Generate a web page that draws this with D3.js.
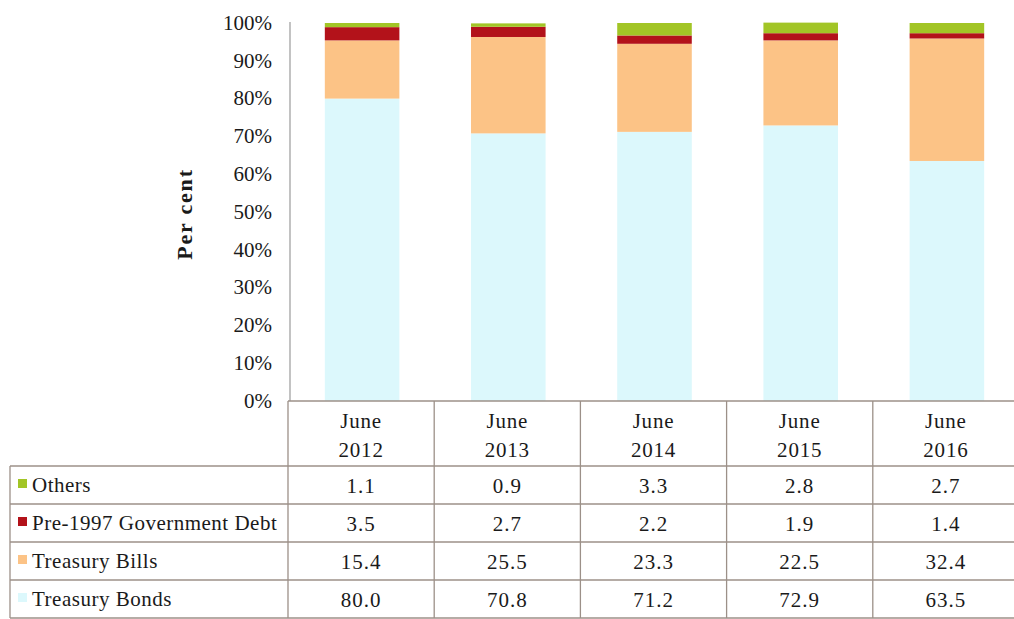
<!DOCTYPE html>
<html>
<head>
<meta charset="utf-8">
<script src="https://cdn.jsdelivr.net/npm/d3@7"></script>
<style>
  body { margin: 0; background: #fff; }
  text { font-family: "Liberation Serif", "Times New Roman", serif; fill: #1a1a1a; }
</style>
</head>
<body>
<svg id="chart" width="1014" height="619"></svg>
<script>
// data (per cent of total)
const periods = ["June 2012", "June 2013", "June 2014", "June 2015", "June 2016"]
const seriesNames = ["Treasury Bonds", "Treasury Bills", "Pre-1997 Government Debt", "Others"]
const treasuryBonds = [80.0, 70.8, 71.2, 72.9, 63.5]
const treasuryBills = [15.4, 25.5, 23.3, 22.5, 32.4]
const pre1997Debt = [3.5, 2.7, 2.2, 1.9, 1.4]
const others = [1.1, 0.9, 3.3, 2.8, 2.7]
const yTicks = [0, 10, 20, 30, 40, 50, 60, 70, 80, 90, 100]

const colors = {
  "Treasury Bonds": "#dcf8fc",
  "Treasury Bills": "#fcc386",
  "Pre-1997 Government Debt": "#b3121a",
  "Others": "#a2c526"
}
const valuesBySeries = {
  "Treasury Bonds": treasuryBonds,
  "Treasury Bills": treasuryBills,
  "Pre-1997 Government Debt": pre1997Debt,
  "Others": others
}

const rows = periods.map((p, i) => {
  const r = { period: p }
  seriesNames.forEach(s => { r[s] = valuesBySeries[s][i] })
  return r
})

const svg = d3.select("#chart")
const lineColor = "#9c9088"

const tableLeft = 10, plotLeft = 288, tableRight = 1019
const plotTop = 23, base = 401
const headerBottom = 466, rowH = 38

const x = d3.scaleBand()
  .domain(periods)
  .range([plotLeft, tableRight])

const y = d3.scaleLinear()
  .domain([0, 100])
  .range([base, plotTop])

// stacked bars
const stack = d3.stack().keys(seriesNames)
const stacked = stack(rows)
const barW = x.bandwidth() * 0.51

svg.append("g").selectAll("g")
  .data(stacked)
  .join("g")
    .attr("fill", d => colors[d.key])
  .selectAll("rect")
  .data(d => d)
  .join("rect")
    .attr("x", d => x(d.data.period) + (x.bandwidth() - barW) / 2 + 1)
    .attr("width", barW)
    .attr("y", d => y(d[1]))
    .attr("height", d => y(d[0]) - y(d[1]))

// y axis
const yAxis = svg.append("g")
  .attr("transform", `translate(${plotLeft + 2},0)`)
  .call(d3.axisLeft(y).tickValues(yTicks).tickFormat(d => d + "%").tickSize(0).tickPadding(18))
yAxis.select(".domain").attr("stroke", "#9a9a9a").attr("stroke-width", 1.2).attr("d", `M0,${plotTop - 1}V${base}`)
yAxis.selectAll(".tick text")
  .attr("font-size", 21)
  .attr("font-family", "Liberation Serif")
  .attr("fill", "#1a1a1a")
  .attr("dy", "0.3em")

svg.append("text")
  .attr("transform", `translate(192,214) rotate(-90)`)
  .attr("text-anchor", "middle")
  .attr("font-size", 22)
  .attr("font-weight", "bold")
  .attr("letter-spacing", 1.8)
  .text("Per cent")

// table
const table = svg.append("g")
const rowOrder = ["Others", "Pre-1997 Government Debt", "Treasury Bills", "Treasury Bonds"]
const tableBottom = headerBottom + rowH * rowOrder.length

// horizontal lines
table.append("line").attr("x1", plotLeft).attr("x2", tableRight).attr("y1", base).attr("y2", base)
d3.range(rowOrder.length + 1).forEach(i => {
  table.append("line").attr("x1", tableLeft).attr("x2", tableRight)
    .attr("y1", headerBottom + i * rowH).attr("y2", headerBottom + i * rowH)
})
// vertical lines
table.append("line").attr("x1", tableLeft).attr("x2", tableLeft).attr("y1", headerBottom).attr("y2", tableBottom)
periods.forEach(p => {
  table.append("line").attr("x1", x(p)).attr("x2", x(p)).attr("y1", base).attr("y2", tableBottom)
})
table.append("line").attr("x1", tableRight - 1).attr("x2", tableRight - 1).attr("y1", base).attr("y2", tableBottom)
table.selectAll("line").attr("stroke", lineColor).attr("stroke-width", 1.3)

// header
const header = table.selectAll("text.head")
  .data(periods)
  .join("text")
    .attr("class", "head")
    .attr("text-anchor", "middle")
    .attr("font-size", 21)
    .attr("letter-spacing", 0.8)
    .attr("x", d => x(d) + x.bandwidth() / 2)
header.append("tspan").attr("x", d => x(d) + x.bandwidth() / 2).attr("y", 428).text(d => d.split(" ")[0])
header.append("tspan").attr("x", d => x(d) + x.bandwidth() / 2).attr("y", 457).text(d => d.split(" ")[1])

// rows
rowOrder.forEach((s, i) => {
  const cy = headerBottom + i * rowH + rowH / 2
  table.append("rect")
    .attr("x", 18).attr("y", cy - 6).attr("width", 9).attr("height", 9)
    .attr("fill", colors[s])
  table.append("text")
    .attr("x", 32).attr("y", cy + 7)
    .attr("font-size", 21)
    .attr("letter-spacing", 0.5)
    .text(s)
  table.selectAll(null)
    .data(valuesBySeries[s])
    .join("text")
      .attr("text-anchor", "middle")
      .attr("x", (d, j) => x(periods[j]) + x.bandwidth() / 2)
      .attr("y", cy + 8)
      .attr("font-size", 21)
      .attr("letter-spacing", 1)
      .text(d => d.toFixed(1))
})
</script>
</body>
</html>
